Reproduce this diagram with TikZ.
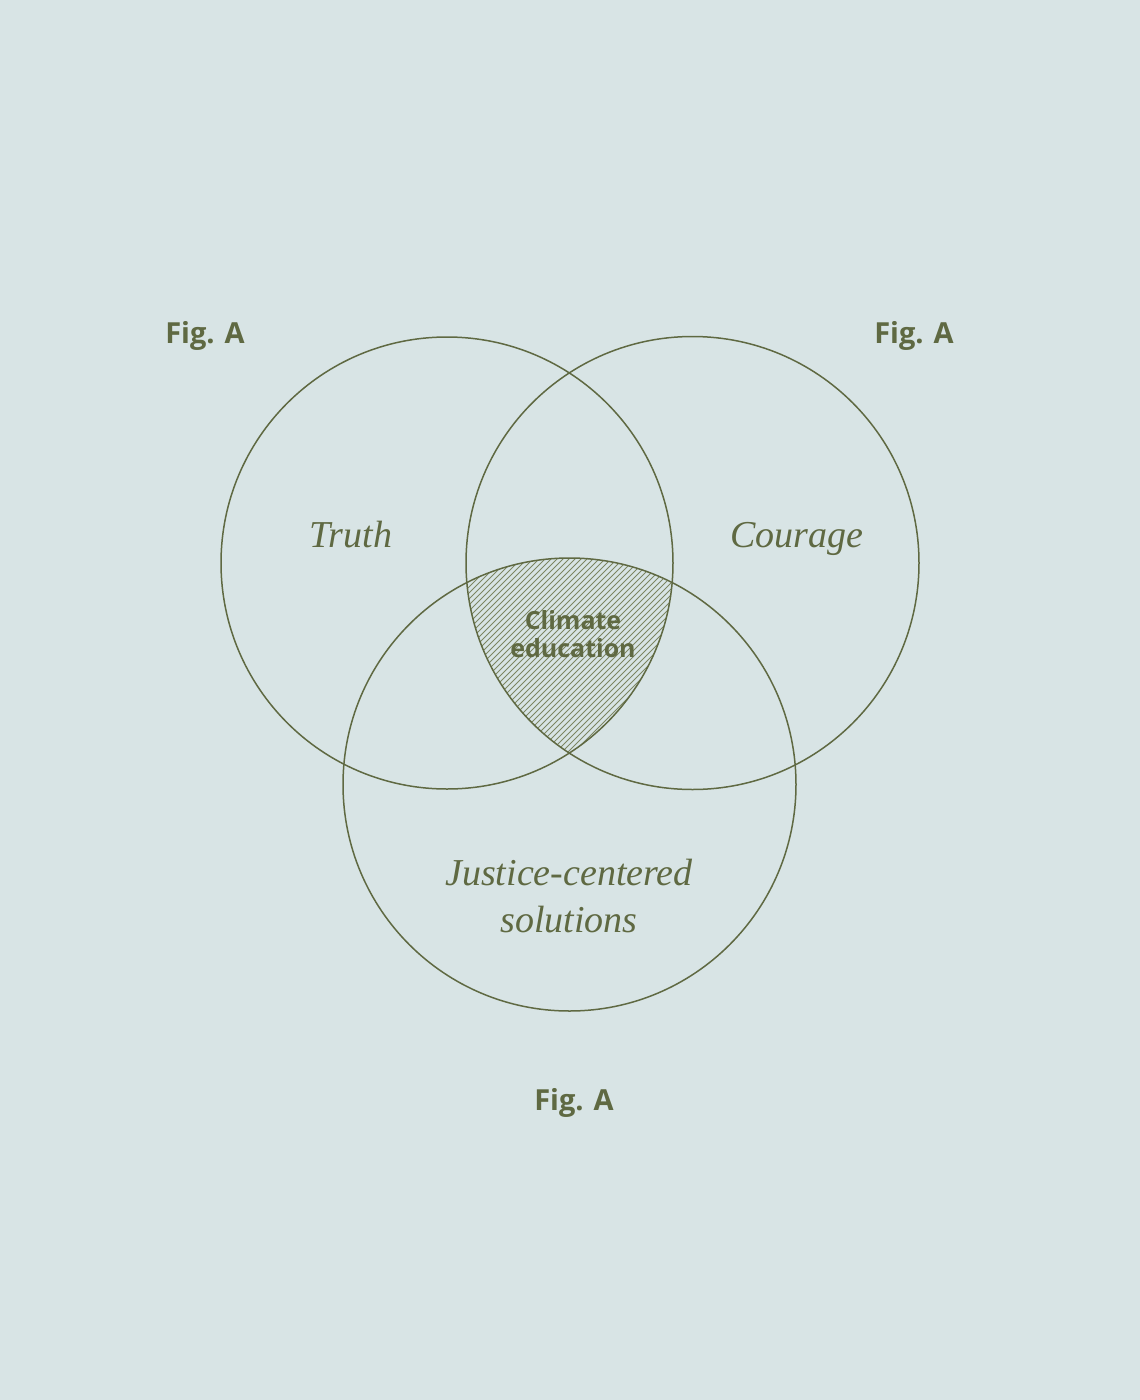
\documentclass[tikz,border=0pt]{standalone}
\usepackage{fontspec}
\setmainfont{Liberation Serif}
\newfontfamily\labelsans{Open Sans}
\definecolor{bgc}{HTML}{D8E4E5}
\definecolor{olive}{HTML}{5F6942}
\definecolor{hatchc}{HTML}{7C8562}
\begin{document}
\begin{tikzpicture}[x=1pt,y=-1pt,
  ring/.style={draw=olive,line width=1.5pt},
  figlabel/.style={anchor=base,text=olive,font=\labelsans\bfseries\fontsize{29}{36}\selectfont,inner sep=0pt},
  serif/.style={anchor=base,text=olive,font=\itshape\fontsize{38}{46}\selectfont,inner sep=0pt,align=center},
  centerlabel/.style={text=olive,font=\labelsans\bfseries\fontsize{25}{28}\selectfont,inner sep=0pt,align=center}]
\fill[bgc] (0,0) rectangle (1140,1400);
\useasboundingbox (0,0) rectangle (1140,1400);
% hatch intersection
\begin{scope}
  \clip (447,563) circle (226);
  \clip (692.5,563) circle (226.5);
  \clip (569.5,784.5) circle (226.5);
  \foreach \i in {0,6,...,720}{
    \draw[hatchc,line width=0.8pt] (\i,900) -- (\i+500,400);
  }
\end{scope}
\node[circle,ring,minimum size=452pt,inner sep=0pt] (ctruth) at (447,563) {};
\node[circle,ring,minimum size=453pt,inner sep=0pt] (ccourage) at (692.5,563) {};
\node[circle,ring,minimum size=453pt,inner sep=0pt] (cjustice) at (569.5,784.5) {};
\node[serif] (truth) at (351,547) {Truth};
\node[serif] (courage) at (797,547) {Courage};
\node[serif] (justice) at (569,885) {Justice-centered};
\node[serif] (solutions) at (569,932) {solutions};
\node[centerlabel] (climate) at (573,634) {Climate\\education};
\node[figlabel] (figl) at (205,343) {Fig. A};
\node[figlabel] (figr) at (914,343) {Fig. A};
\node[figlabel] (figb) at (574,1110) {Fig. A};
\end{tikzpicture}
\end{document}
